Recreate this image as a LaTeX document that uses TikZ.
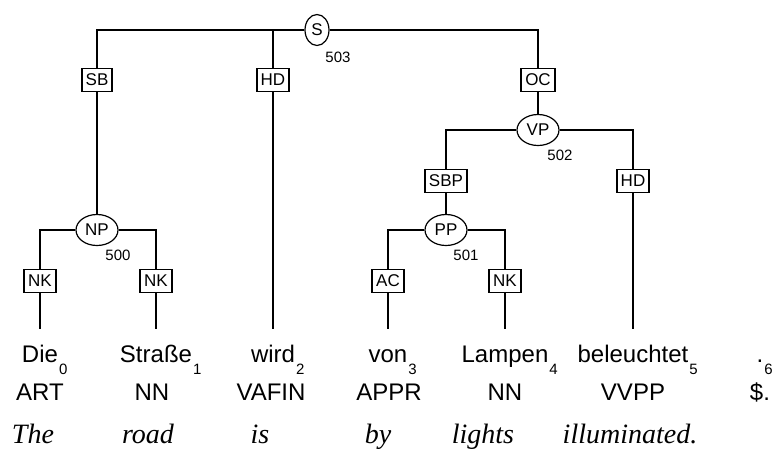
\documentclass[tikz,border=0pt]{standalone}
\usepackage{fontspec}
\setmainfont{Liberation Sans}
\newfontfamily\glossfont{Liberation Serif}
\usetikzlibrary{shapes.geometric}
\newcommand{\tokidx}[2]{#1\rlap{\kern1pt\raisebox{-12pt}{\fontsize{15}{15}\selectfont #2}}}

\begin{document}
\begin{tikzpicture}[x=1pt,y=-1pt,line width=1.7pt,
cat/.style={ellipse,draw,fill=white,line width=1.2pt,inner sep=0pt,
  minimum width=42pt,minimum height=31pt,font=\fontsize{17}{17}\selectfont},
func/.style={rectangle,draw,fill=white,inner xsep=4pt,inner ysep=0pt,
  minimum height=23pt,font=\fontsize{17}{17}\selectfont},
num/.style={inner sep=0pt,font=\fontsize{15}{15}\selectfont},
wrd/.style={inner sep=0pt,anchor=base,text height=32pt,font=\fontsize{24}{24}\selectfont},
tag/.style={inner sep=0pt,anchor=base,font=\fontsize{24}{24}\selectfont},
gls/.style={inner sep=0pt,anchor=base,font=\glossfont\itshape\fontsize{28}{28}\selectfont}]
\useasboundingbox (0,0) rectangle (772,448);
% categories
\node[cat,minimum width=24pt] (S) at (317,30) {S};
\node[cat] (VP) at (538,130) {VP};
\node[cat] (NP) at (97,230) {NP};
\node[cat] (PP) at (446,230) {PP};
\node[num] (N503) at (338,57) {503};
\node[num] (N502) at (560,155) {502};
\node[num] (N500) at (118,255) {500};
\node[num] (N501) at (466,255) {501};
% edge labels
\node[func] (SB) at (97,80) {SB};
\node[func] (HD1) at (273,80) {HD};
\node[func] (OC) at (538,80) {OC};
\node[func] (SBP) at (446,181) {SBP};
\node[func] (HD2) at (633,181) {HD};
\node[func] (NK1) at (40,281) {NK};
\node[func] (NK2) at (156,281) {NK};
\node[func] (AC) at (388,281) {AC};
\node[func] (NK3) at (505,281) {NK};
% words
\node[wrd] (W0) at (40,362) {\tokidx{Die}{0}};
\node[wrd] (W1) at (156,362) {\tokidx{Straße}{1}};
\node[wrd] (W2) at (273,362) {\tokidx{wird}{2}};
\node[wrd] (W3) at (388,362) {\tokidx{von}{3}};
\node[wrd] (W4) at (505,362) {\tokidx{Lampen}{4}};
\node[wrd] (W5) at (633,362) {\tokidx{beleuchtet}{5}};
\node[wrd] (W6) at (760,362) {\tokidx{.}{6}};
% tags
\node[tag] (T0) at (40,400) {ART};
\node[tag] (T1) at (152,400) {NN};
\node[tag] (T2) at (271,400) {VAFIN};
\node[tag] (T3) at (389,400) {APPR};
\node[tag] (T4) at (505,400) {NN};
\node[tag] (T5) at (633,400) {VVPP};
\node[tag] (T6) at (760,400) {\$.};
% glosses
\node[gls] (G0) at (33,443) {The};
\node[gls] (G1) at (148,443) {road};
\node[gls] (G2) at (260,443) {is};
\node[gls] (G3) at (378,443) {by};
\node[gls] (G4) at (483,443) {lights};
\node[gls] (G5) at (630,443) {illuminated.};
% edges
\draw (S) -| (SB);
\draw (S) -| (HD1);
\draw (S) -| (OC);
\draw (SB) -- (NP);
\draw (HD1) -- (W2);
\draw (OC) -- (VP);
\draw (VP) -| (SBP);
\draw (VP) -| (HD2);
\draw (SBP) -- (PP);
\draw (HD2) -- (W5);
\draw (NP) -| (NK1);
\draw (NP) -| (NK2);
\draw (NK1) -- (W0);
\draw (NK2) -- (W1);
\draw (PP) -| (AC);
\draw (PP) -| (NK3);
\draw (AC) -- (W3);
\draw (NK3) -- (W4);
\end{tikzpicture}
\end{document}
